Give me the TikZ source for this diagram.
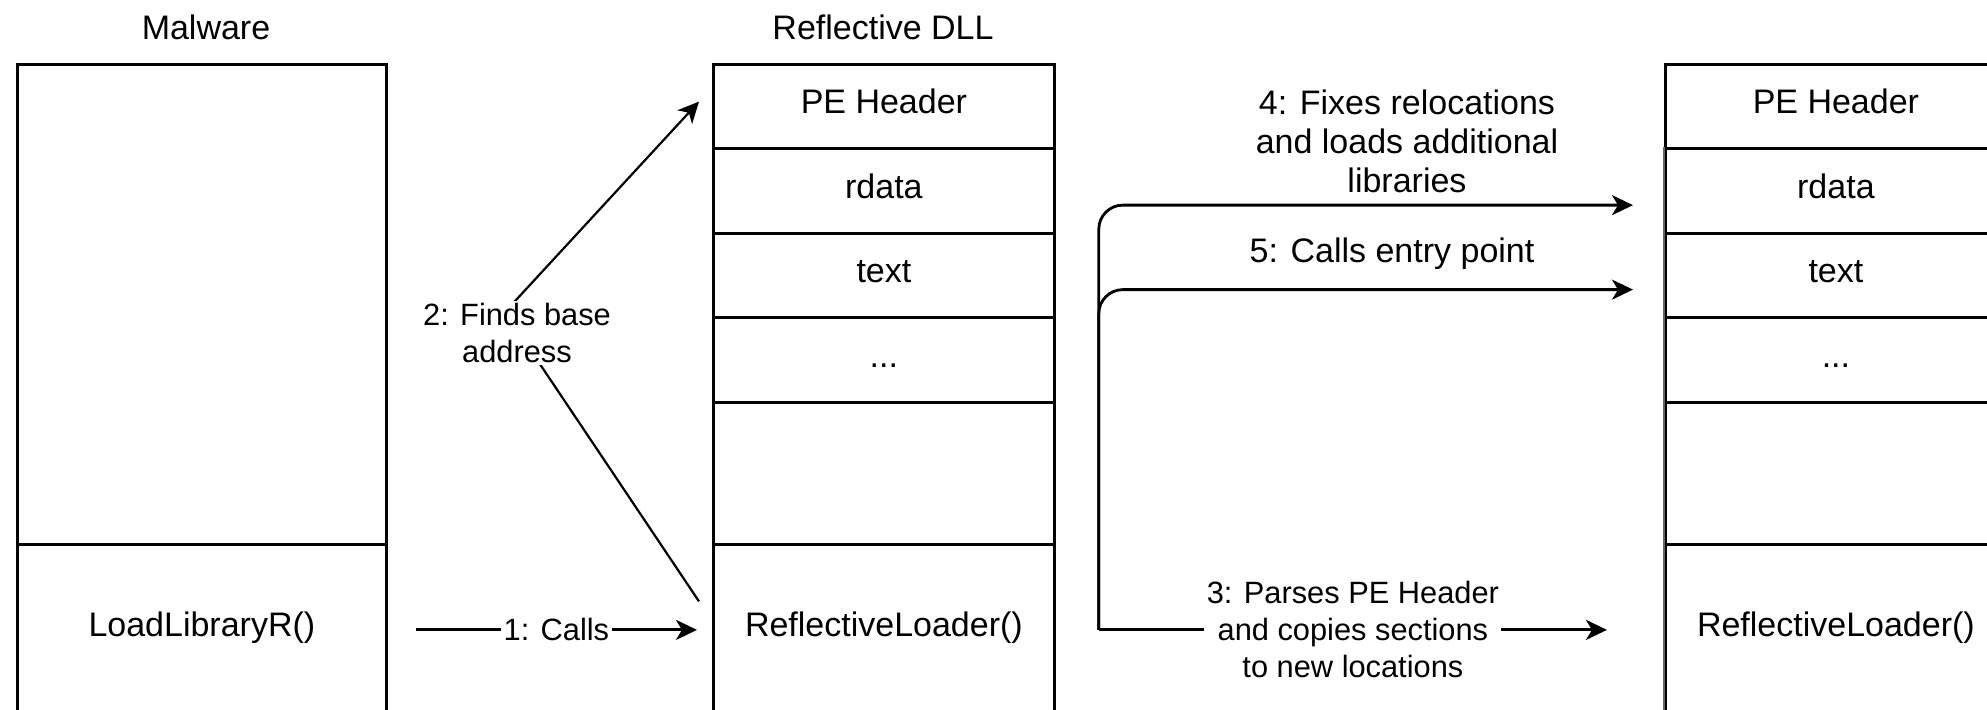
\documentclass[tikz,border=0pt]{standalone}
\usepackage{fontspec}
\setmainfont{Liberation Sans}
\usetikzlibrary{arrows.meta}
\newcommand{\cellfont}{\fontsize{17}{19.5}\selectfont}
\newcommand{\lblfont}{\fontsize{15.4}{18.5}\selectfont}
\begin{document}
\begin{tikzpicture}[x=0.5pt,y=-0.5pt,
  cell/.style={draw, line width=1.4pt, inner sep=0pt, anchor=north west, font=\cellfont, text height=12pt, text depth=5pt},
  colA/.style={cell, minimum width=184.5pt},
  colB/.style={cell, minimum width=170.5pt},
  rowh/.style={minimum height=42.25pt},
  conn/.style={line width=1.4pt, -{Stealth[length=10.5pt,width=10pt,inset=3pt]}},
  elbl/.style={fill=white, font=\lblfont, inner sep=1.2pt, align=center},
  tlbl/.style={font=\cellfont, inner sep=0pt, align=center}]
\useasboundingbox (0,0) rectangle (1987,710);
\fill[white] (0,0) rectangle (1987,710);
\clip (0,0) rectangle (1987,710);

% titles
\node[font=\cellfont, anchor=base] (tmal) at (206,40) {Malware};
\node[font=\cellfont, anchor=base] (tdll) at (883,40) {Reflective DLL};

% Malware column
\node[colA, minimum height=240pt] (mtop) at (16,63) {};
\node[colA, minimum height=85.5pt] (mload) at (16,543) {LoadLibraryR()};

% Reflective DLL column
\node[colB, rowh] (dpe) at (712,63) {PE Header};
\node[colB, rowh] (drd) at (712,147.5) {rdata};
\node[colB, rowh] (dtx) at (712,232) {text};
\node[colB, rowh] (ddot) at (712,316.5) {...};
\node[colB, minimum height=71pt] (demp) at (712,401) {};
\node[colB, minimum height=85.5pt] (dload) at (712,543) {ReflectiveLoader()};

% Loaded image column
\node[colB, rowh] (rpe) at (1664,63) {PE Header};
\node[colB, rowh] (rrd) at (1664,147.5) {rdata};
\node[colB, rowh] (rtx) at (1664,232) {text};
\node[colB, rowh] (rdot) at (1664,316.5) {...};
\node[colB, minimum height=71pt] (remp) at (1664,401) {};
\node[colB, minimum height=85.5pt] (rload) at (1664,543) {ReflectiveLoader()};
\draw[line width=1.4pt, black!60] (rrd.north west) -- (rload.south west);

% 1: Calls
\draw[conn] ([xshift=14pt]mload.east) -- node[elbl] (lbl1) {1: Calls} ([xshift=-7.5pt]dload.west);

% 2: Finds base address
\coordinate (wp2) at (505,312);
\draw[conn, line width=1.1pt] ([shift={(-6.5pt,14.25pt)}]dload.west) -- (wp2) -- ([shift={(-6.5pt,2.5pt)}]dpe.west);
\node[elbl] (lbl2) at (517,333) {2: Finds base\\address};

% 3, 4, 5
\coordinate (src) at ([xshift=21.5pt]dload.east);
\draw[conn] (src) -- node[elbl] (lbl3) {3: Parses PE Header\\and copies sections\\to new locations} ([xshift=-28.5pt]rload.west);
\draw[conn, rounded corners=12pt] (src) |- ([shift={(-15.5pt,-7pt)}]rrd.west);
\draw[conn, rounded corners=12pt] (src) |- ([shift={(-15.5pt,-7pt)}]rtx.west);
\node[tlbl] (lbl4) at (1407,141) {4: Fixes relocations\\and loads additional\\libraries};
\node[tlbl] (lbl5) at (1392,254) {5: Calls entry point};
\end{tikzpicture}
\end{document}
